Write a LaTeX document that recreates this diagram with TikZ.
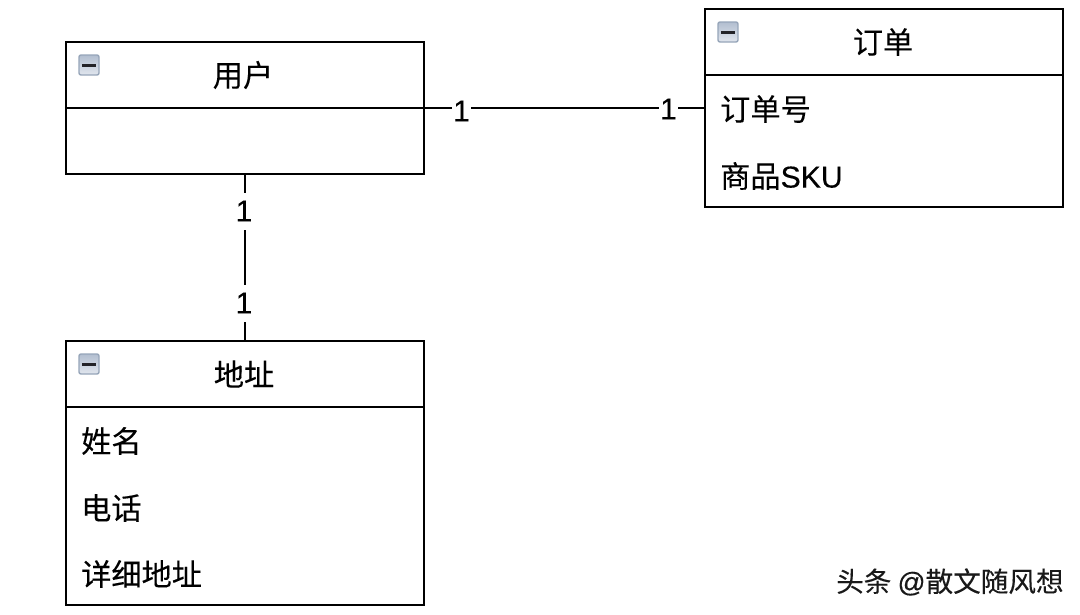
\documentclass[tikz,border=0pt]{standalone}
\usepackage{fontspec}
\setmainfont{Liberation Sans}
\newfontfamily\cjk[FakeBold=0.15]{Noto Sans CJK SC}
\newfontfamily\latinmed[FakeBold=0.25]{Liberation Sans}
\definecolor{iconedge}{RGB}{150,165,185}
\definecolor{icontop}{RGB}{178,190,208}
\definecolor{iconbot}{RGB}{225,230,238}
\definecolor{iconbar}{RGB}{35,35,40}
\tikzset{
  x=1pt,y=-1pt,
  box/.style={draw=black,line width=2.3pt,fill=none,rectangle,inner sep=0pt,minimum width=358pt},
  rulerline/.style={draw=black,line width=2.3pt},
  linkline/.style={draw=black,line width=2.3pt},
  titletext/.style={font=\cjk\fontsize{30.2pt}{32pt}\selectfont,inner sep=0pt,anchor=center},
  rowtext/.style={font=\cjk\fontsize{30.2pt}{32pt}\selectfont,inner sep=0pt,anchor=west},
  mult/.style={font=\latinmed\fontsize{30pt}{32pt}\selectfont,fill=white,inner sep=0pt,minimum width=19pt,minimum height=37pt},
  iconbox/.style={draw=iconedge,line width=1.4pt,rounded corners=2pt,top color=icontop,bottom color=iconbot,minimum size=20pt,inner sep=0pt},
  wmtext/.style={font=\cjk\fontsize{27.6pt}{30pt}\selectfont,text=black!90,inner sep=0pt,anchor=west},
}
\newcommand{\minusicon}[2]{%
  \node[iconbox] (#1) at #2 {};
  \draw[iconbar,line width=3pt] ([xshift=-7pt]#1.center) -- ([xshift=7pt]#1.center);
}
\begin{document}
\begin{tikzpicture}
\useasboundingbox[fill=white] (0,0) rectangle (1080,614);
% boxes
\node[box,minimum height=132pt] (user) at (245,108) {};
\node[box,minimum height=198pt] (order) at (884,108) {};
\node[box,minimum height=264pt] (addr) at (245,473) {};
% dividers
\coordinate (orderdl) at (705,75); \coordinate (orderdr) at (1063,75);
\coordinate (addrdl) at (66,407); \coordinate (addrdr) at (424,407);
\draw[rulerline] (user.west) -- (user.east);
\draw[rulerline] (orderdl) -- (orderdr);
\draw[rulerline] (addrdl) -- (addrdr);
% connectors
\draw[linkline] (user.east) -- (order.west);
\draw[linkline] (user.south) -- (addr.north);
% multiplicities
\node[mult] (m1) at (461.5,111) {1};
\node[mult] (m2) at (668.5,109) {1};
\node[mult] (m3) at (244,211) {1};
\node[mult] (m4) at (244,303) {1};
% icons
\minusicon{iu}{(89,65)}
\minusicon{io}{(728,32)}
\minusicon{ia}{(89,364)}
% titles
\node[titletext] (tu) at (243,75) {用户};
\node[titletext] (to) at (883,42) {订单};
\node[titletext] (ta) at (244,374) {地址};
% rows
\node[rowtext] (r1) at (720,109) {订单号};
\node[rowtext] (r2) at (720,176) {商品{\latinmed SKU}};
\node[rowtext] (r3) at (81,441) {姓名};
\node[rowtext] (r4) at (81,508) {电话};
\node[rowtext] (r5) at (81,574) {详细地址};
% watermark
\node[wmtext] (w) at (836,582) {头条 {\latinmed @}散文随风想};
\end{tikzpicture}
\end{document}
